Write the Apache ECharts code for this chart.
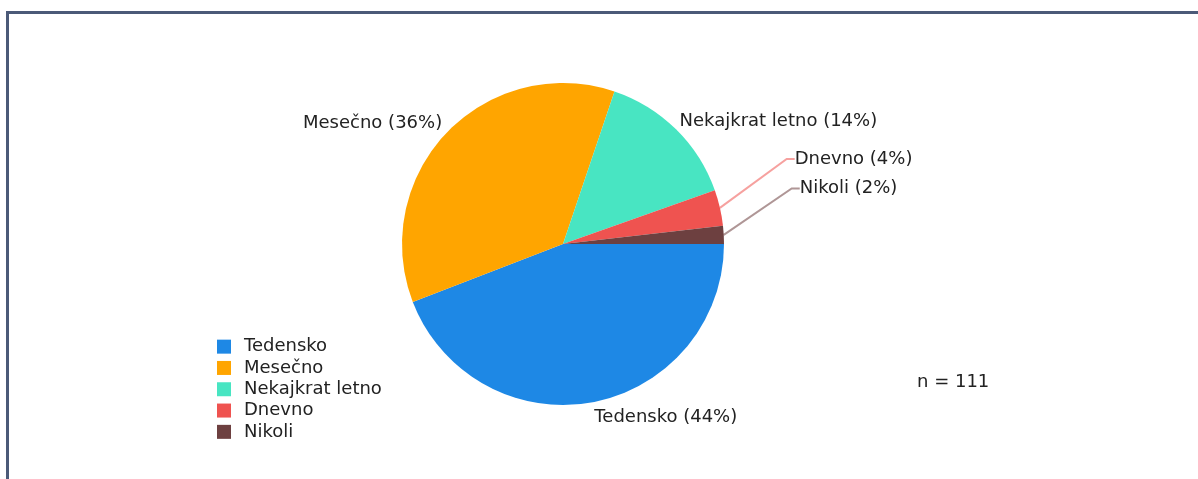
<!DOCTYPE html>
<html>
<head>
<meta charset="utf-8">
<script src="https://cdn.jsdelivr.net/npm/echarts@6/dist/echarts.min.js"></script>
<style>
  body { margin: 0; background: #ffffff; overflow: hidden; }
  #myChart { position: absolute; left: 0; top: 0; width: 1198px; height: 479px; }
  .frame {
    position: absolute;
    left: 6px;
    top: 11px;
    width: 1400px;
    height: 700px;
    border: 3px solid #4b5a78;
    pointer-events: none;
  }
</style>
</head>
<body>
<div id="myChart"></div>
<div class="frame"></div>
<script>
// podatki
const categories = ['Tedensko', 'Mesečno', 'Nekajkrat letno', 'Dnevno', 'Nikoli'];
const counts = [49, 40, 16, 4, 2];
const colors = ['#1e88e5', '#ffa500', '#48e5c2', '#ef5350', '#6d4040'];
const sampleNote = 'n = 111';

const font = 'DejaVu Sans';

let myChart = echarts.init(document.getElementById('myChart'));

myChart.setOption({
  animation: false,
  color: colors,
  title: {
    text: sampleNote,
    left: 912,
    top: 368,
    textStyle: {
      fontFamily: font,
      fontSize: 18,
      fontWeight: 'normal',
      color: '#222',
    },
  },
  legend: {
    orient: 'vertical',
    left: 217,
    top: 336,
    padding: 0,
    icon: 'rect',
    itemWidth: 14,
    itemHeight: 14,
    itemGap: 0,
    data: categories,
    textStyle: {
      fontFamily: font,
      fontSize: 18,
      lineHeight: 21.3,
      color: '#222',
      padding: [0, 0, 0, 8],
    },
  },
  series: [
    {
      type: 'pie',
      center: [563, 244],
      radius: [0, 161],
      startAngle: 0,
      clockwise: true,
      avoidLabelOverlap: false,
      percentPrecision: 0,
      itemStyle: {
        borderWidth: 0,
      },
      label: {
        show: true,
        position: 'outside',
        formatter: '{b} ({d}%)',
        fontFamily: font,
        fontSize: 18,
        color: '#222',
      },
      labelLine: {
        show: false,
        length: 5,
        length2: 0,
      },
      labelLayout: function (params) {
        const r = params.labelRect;
        // majhni deleži: oznaka zamaknjena navzgor, s črto
        if (params.dataIndex === 3) {
          return { x: r.x + 54, y: r.y + r.height / 2 - 47 };
        }
        if (params.dataIndex === 4) {
          return { x: r.x + 55, y: r.y + r.height / 2 - 46 };
        }
        if (params.dataIndex === 0) {
          return { dx: -4, dy: 10 };
        }
        if (params.dataIndex === 1) {
          return { dx: 4, dy: -6 };
        }
        if (params.dataIndex === 2) {
          return { dx: -5, dy: -4 };
        }
        return {};
      },
      data: categories.map(function (name, i) {
        const item = { name: name, value: counts[i] };
        if (i >= 3) {
          item.labelLine = {
            show: true,
            length: 8,
            length2: 8,
            lineStyle: { width: 2, opacity: 0.55 },
          };
        }
        return item;
      }),
    },
  ],
});
</script>
</body>
</html>
